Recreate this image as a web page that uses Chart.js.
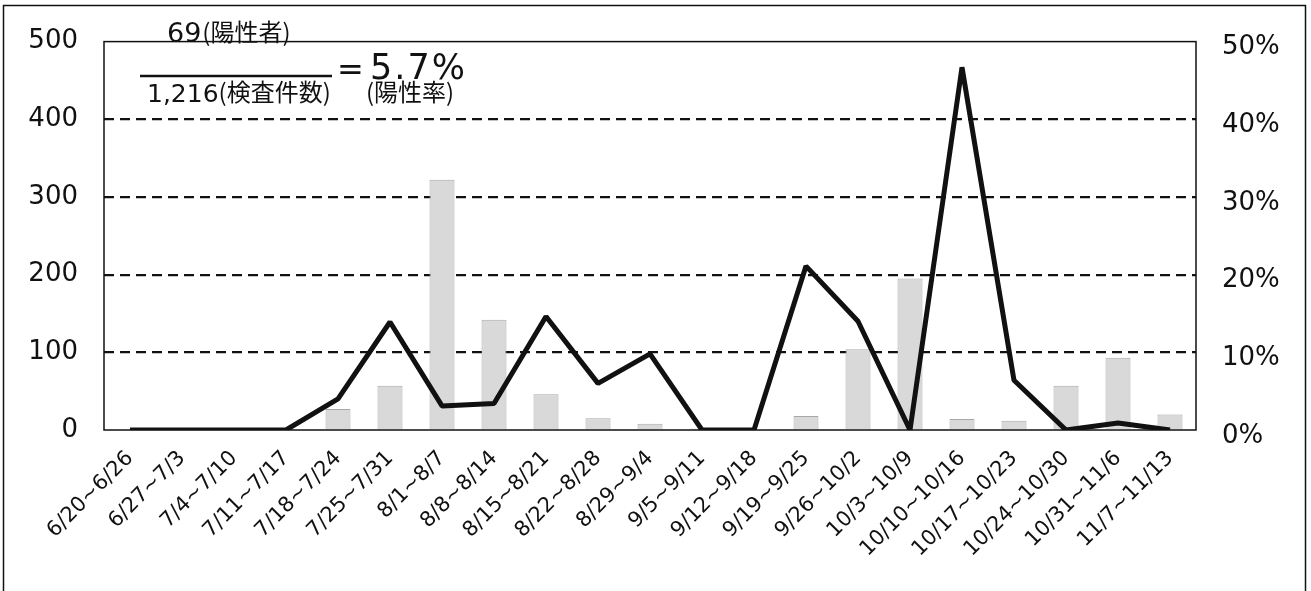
<!DOCTYPE html>
<html>
<head>
<meta charset="utf-8">
<script src="https://cdn.jsdelivr.net/npm/chart.js@4.4.0/dist/chart.umd.min.js"></script>
<style>
  html, body { margin: 0; padding: 0; background: #fff; }
  #wrap { position: absolute; left: 0; top: 0; width: 1311px; height: 591px; }
</style>
</head>
<body>
<div id="wrap"><canvas id="chart" width="1311" height="591"></canvas></div>
<script>
// 週ごとの区間
const semanas = ['6/20~6/26', '6/27~7/3', '7/4~7/10', '7/11~7/17', '7/18~7/24', '7/25~7/31',
  '8/1~8/7', '8/8~8/14', '8/15~8/21', '8/22~8/28', '8/29~9/4', '9/5~9/11', '9/12~9/18',
  '9/19~9/25', '9/26~10/2', '10/3~10/9', '10/10~10/16', '10/17~10/23', '10/24~10/30',
  '10/31~11/6', '11/7~11/13'];
// 検査件数 (eixo esquerdo)
const examesPorSemana = [0, 0, 0, 0, 27, 57, 322, 142, 46, 15, 8, 2, 1, 18, 104, 195, 14, 12, 57, 93, 20];
// 陽性率 % (eixo direito)
const taxaPositivos = [0, 0, 0, 0, 4.0, 13.9, 3.1, 3.4, 14.6, 6.0, 9.8, 0, 0, 21.1, 14.0, 0, 46.7, 6.4, 0, 0.9, 0];

const eixoEsq = { min: 0, max: 500, passo: 100 };
const eixoDir = { min: 0, max: 50, passo: 10 };

const fonteNum = "'DejaVu Sans', 'Noto Sans CJK JP', sans-serif";
const fonteJp = "'Noto Sans CJK JP', 'DejaVu Sans', sans-serif";

// Moldura da área do gráfico, borda externa e anotação
const moldura = {
  id: 'moldura',
  beforeDatasetsDraw(chart) {
    const { ctx, chartArea: a } = chart;
    ctx.save();
    ctx.strokeStyle = '#111';
    ctx.lineWidth = 1.5;
    ctx.strokeRect(a.left, a.top, a.right - a.left, a.bottom - a.top);
    ctx.restore();
  },
  afterDraw(chart) {
    const ctx = chart.ctx;
    ctx.save();
    ctx.strokeStyle = '#111';
    ctx.lineWidth = 1.5;
    ctx.strokeRect(3.5, 5.5, 1302, 600);

    // 69(陽性者) / 1,216(検査件数) = 5.7% (陽性率)
    ctx.fillStyle = '#111';
    ctx.textBaseline = 'alphabetic';
    ctx.textAlign = 'left';
    let x = 167;
    ctx.font = '27px ' + fonteNum;
    ctx.fillText('69', x, 42);
    x += ctx.measureText('69').width + 1;
    ctx.font = '24px ' + fonteJp;
    ctx.fillText('(陽性者)', x, 41);

    ctx.lineWidth = 2.5;
    ctx.beginPath();
    ctx.moveTo(140, 76);
    ctx.lineTo(332, 76);
    ctx.stroke();

    ctx.font = '32px ' + fonteNum;
    ctx.fillText('=', 337, 80);
    ctx.font = '35px ' + fonteNum;
    ctx.letterSpacing = '2px';
    ctx.fillText('5.7%', 370, 79);
    ctx.letterSpacing = '0px';

    x = 147;
    ctx.font = '25px ' + fonteNum;
    ctx.fillText('1,216', x, 102);
    x += ctx.measureText('1,216').width;
    ctx.font = '24px ' + fonteJp;
    ctx.fillText('(検査件数)', x, 101);
    ctx.fillText('(陽性率)', 366, 101);
    ctx.restore();
  }
};

new Chart(document.getElementById('chart').getContext('2d'), {
  data: {
    labels: semanas,
    datasets: [
      {
        type: 'line',
        label: '陽性率',
        data: taxaPositivos,
        yAxisID: 'y1',
        borderColor: '#111',
        borderWidth: 5,
        borderJoinStyle: 'bevel',
        pointRadius: 0,
        tension: 0,
        fill: false,
        order: 0
      },
      {
        type: 'bar',
        label: '検査件数',
        data: examesPorSemana,
        yAxisID: 'y',
        backgroundColor: '#d9d9d9',
        borderColor: '#a8a8a8',
        borderWidth: 1,
        barPercentage: 0.48,
        categoryPercentage: 1.0,
        order: 1
      }
    ]
  },
  options: {
    responsive: false,
    animation: false,
    devicePixelRatio: 1,
    layout: { padding: { top: 38, left: 0, right: 0, bottom: 0 } },
    plugins: {
      legend: { display: false },
      tooltip: { enabled: false }
    },
    scales: {
      x: {
        grid: { display: false },
        border: { display: false },
        ticks: {
          color: '#111',
          font: { family: fonteNum, size: 21 },
          maxRotation: 45,
          minRotation: 45,
          padding: 8,
          autoSkip: false
        },
        afterFit: s => { s.height = 161; }
      },
      y: {
        position: 'left',
        min: eixoEsq.min,
        max: eixoEsq.max,
        ticks: {
          stepSize: eixoEsq.passo,
          color: '#111',
          font: { family: fonteNum, size: 26 },
          padding: 26
        },
        grid: {
          drawTicks: false,
          lineWidth: 2.2,
          color: c => (c.tick && (c.tick.value === eixoEsq.min || c.tick.value === eixoEsq.max)) ? 'rgba(0,0,0,0)' : '#111'
        },
        border: { display: false, dash: [10, 6] },
        afterFit: s => { s.width = 104; }
      },
      y1: {
        position: 'right',
        min: eixoDir.min,
        max: eixoDir.max,
        ticks: {
          stepSize: eixoDir.passo,
          color: '#111',
          font: { family: fonteNum, size: 26 },
          padding: 26,
          labelOffset: 6,
          callback: v => v + '%'
        },
        grid: { display: false, drawTicks: false },
        border: { display: false },
        afterFit: s => { s.width = 115; }
      }
    }
  },
  plugins: [moldura]
});
</script>
</body>
</html>
